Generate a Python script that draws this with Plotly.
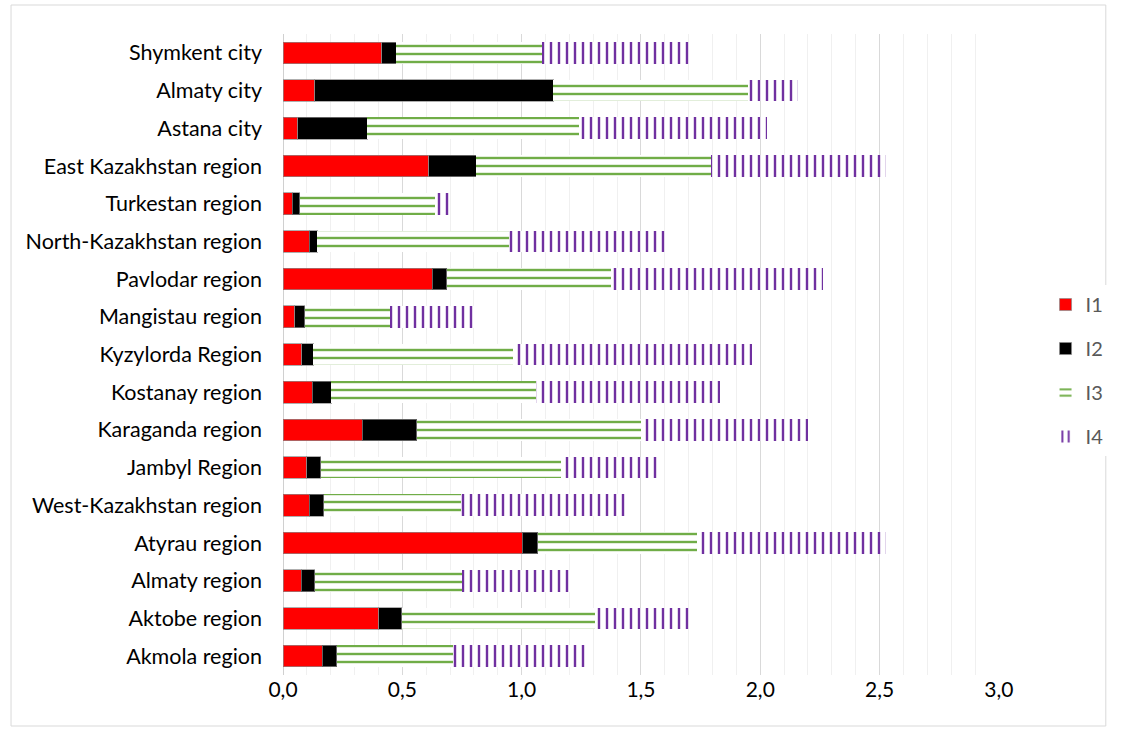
import plotly.graph_objects as go

# Regions, listed top to bottom as they appear on the chart
regions = [
    "Shymkent city", "Almaty city", "Astana city", "East Kazakhstan region",
    "Turkestan region", "North-Kazakhstan region", "Pavlodar region",
    "Mangistau region", "Kyzylorda Region", "Kostanay region",
    "Karaganda region", "Jambyl Region", "West-Kazakhstan region",
    "Atyrau region", "Almaty region", "Aktobe region", "Akmola region",
]

# Index components (stacked)
i1 = [0.413, 0.132, 0.062, 0.610, 0.038, 0.110, 0.625, 0.050, 0.078,
      0.123, 0.332, 0.100, 0.110, 1.002, 0.077, 0.402, 0.165]
i2 = [0.062, 1.000, 0.291, 0.200, 0.032, 0.033, 0.062, 0.042, 0.049,
      0.080, 0.228, 0.058, 0.060, 0.065, 0.056, 0.096, 0.060]
i3 = [0.612, 0.818, 0.887, 0.982, 0.567, 0.802, 0.686, 0.356, 0.836,
      0.857, 0.942, 1.005, 0.578, 0.670, 0.617, 0.809, 0.488]
i4 = [0.613, 0.210, 0.788, 0.736, 0.060, 0.655, 0.892, 0.352, 1.004,
      0.772, 0.696, 0.405, 0.685, 0.791, 0.452, 0.393, 0.555]

series = [
    ("I1", i1, dict(color="#FF0000", line=dict(color="rgba(140,140,140,0.7)", width=1))),
    ("I2", i2, dict(color="#000000", line=dict(color="rgba(140,140,140,0.7)", width=1))),
    ("I3", i3, dict(color="white", line=dict(width=0),
                    pattern=dict(shape="-", size=8, solidity=0.3,
                                 fgcolor="#70AD47", bgcolor="white",
                                 fillmode="replace"))),
    ("I4", i4, dict(color="white", line=dict(width=0),
                    pattern=dict(shape="|", size=8, solidity=0.3,
                                 fgcolor="#7030A0", bgcolor="white",
                                 fillmode="replace"))),
]

FONT = "Lato"
W, H = 1121, 731
ML, MR, MT, MB = 283, 114, 34, 56

fig = go.Figure()
for name, vals, marker in series:
    fig.add_trace(go.Bar(
        y=regions, x=vals, name=name, orientation="h",
        marker=marker, legendgroup=name,
    ))

pw = W - ML - MR
ph = H - MT - MB

fig.update_layout(
    width=W, height=H,
    margin=dict(l=ML, r=MR, t=MT, b=MB),
    barmode="stack", bargap=0.425,
    separators=", ",
    paper_bgcolor="white", plot_bgcolor="white",
    font=dict(family=FONT, color="#000000"),
    legend=dict(
        x=1.065, y=0.475, xanchor="left", yanchor="middle",
        traceorder="grouped", tracegroupgap=15,
        font=dict(family=FONT, size=20, color="#595959"),
        itemwidth=30,
    ),
    xaxis=dict(
        range=[0, 3.0005], dtick=0.5, tick0=0, tickformat=".1f",
        showgrid=True, gridcolor="#D9D9D9", gridwidth=1,
        minor=dict(dtick=0.1, showgrid=True, gridcolor="#F0F0F0", gridwidth=1),
        zeroline=True, zerolinecolor="#D0D0D0", zerolinewidth=1,
        showline=False, ticks="",
        tickfont=dict(family=FONT, size=21, color="#000000"),
        fixedrange=True,
    ),
    yaxis=dict(
        autorange="reversed", showgrid=False, showline=False, ticks="",
        ticklabelstandoff=20,
        tickfont=dict(family=FONT, size=21.5, color="#000000"),
        fixedrange=True,
    ),
    shapes=[dict(
        type="rect", xref="paper", yref="paper", layer="below",
        x0=(8 - ML) / pw, x1=(W - 6 - ML) / pw,
        y0=-(H - 5 - MT - ph) / ph, y1=1 + (MT - 5) / ph,
        line=dict(color="#D9D9D9", width=1), fillcolor="rgba(0,0,0,0)",
    )],
)

fig.write_html("out.html")
